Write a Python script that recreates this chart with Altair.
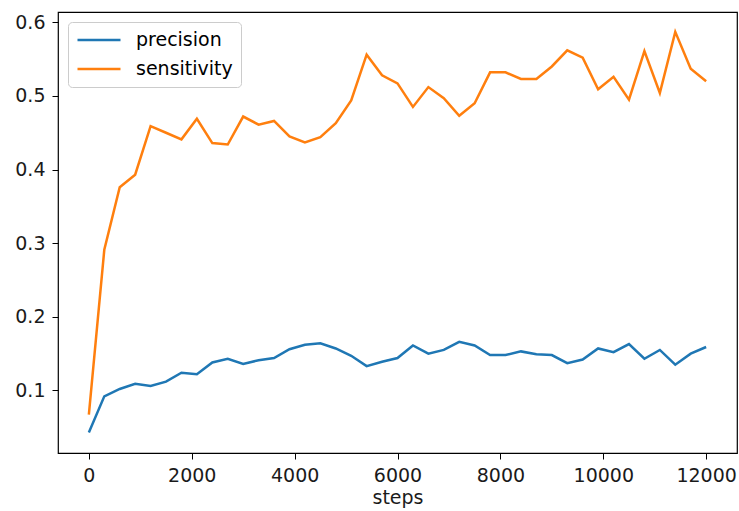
import altair as alt
import pandas as pd

# Training curve sampled every 300 steps
steps = list(range(0, 12001, 300))

precision = [
    0.043, 0.092, 0.102, 0.109, 0.106, 0.112, 0.124, 0.122, 0.138, 0.143,
    0.136, 0.141, 0.144, 0.156, 0.162, 0.164, 0.157, 0.147, 0.133, 0.139,
    0.144, 0.161, 0.150, 0.155, 0.166, 0.161, 0.148, 0.148, 0.153, 0.149,
    0.148, 0.137, 0.142, 0.157, 0.152, 0.163, 0.143, 0.155, 0.135, 0.150,
    0.159,
]

sensitivity = [
    0.067, 0.291, 0.376, 0.393, 0.459, 0.450, 0.441, 0.469, 0.436, 0.434,
    0.472, 0.461, 0.466, 0.445, 0.437, 0.444, 0.463, 0.494, 0.556, 0.528,
    0.517, 0.485, 0.512, 0.497, 0.473, 0.490, 0.532, 0.532, 0.523, 0.523,
    0.540, 0.562, 0.552, 0.509, 0.526, 0.495, 0.561, 0.504, 0.587, 0.537,
    0.520,
]

series_names = ["precision", "sensitivity"]
series_colors = ["#1f77b4", "#ff7f0e"]

df = pd.concat(
    [
        pd.DataFrame({"steps": steps, "value": precision, "metric": "precision"}),
        pd.DataFrame({"steps": steps, "value": sensitivity, "metric": "sensitivity"}),
    ],
    ignore_index=True,
)

FONT = "DejaVu Sans"
FS = 19

chart = (
    alt.Chart(df)
    .mark_line(strokeWidth=2.5, clip=True)
    .encode(
        x=alt.X(
            "steps:Q",
            scale=alt.Scale(domain=[-600, 12600], nice=False, zero=False),
            axis=alt.Axis(
                values=[0, 2000, 4000, 6000, 8000, 10000, 12000],
                format="d",
                title="steps",
                titlePadding=3,
            ),
        ),
        y=alt.Y(
            "value:Q",
            scale=alt.Scale(domain=[0.015, 0.614], nice=False, zero=False),
            axis=alt.Axis(values=[0.1, 0.2, 0.3, 0.4, 0.5, 0.6], format=".1f", title=None),
        ),
        color=alt.Color(
            "metric:N",
            scale=alt.Scale(domain=series_names, range=series_colors),
            legend=alt.Legend(
                title=None,
                orient="none",
                legendX=10,
                legendY=10,
                symbolType="stroke",
                symbolSize=1849,
                symbolStrokeWidth=2.5,
                clipHeight=20,
                labelFont=FONT,
                labelFontSize=FS,
                labelColor="#000000",
                labelOffset=14,
                rowPadding=9,
                padding=8,
                strokeColor="#cccccc",
                fillColor="#ffffff",
                cornerRadius=4,
            ),
        ),
    )
    .properties(width=679, height=441)
    .configure(
        autosize=alt.AutoSizeParams(type="none"),
        padding={"left": 58, "top": 12, "right": 2, "bottom": 58},
    )
    .configure_view(stroke="#000000", strokeWidth=1.2)
    .configure_axis(
        grid=False,
        domain=False,
        ticks=True,
        tickColor="#000000",
        tickSize=6,
        tickWidth=1,
        labelFont=FONT,
        labelFontSize=FS,
        labelColor="#1a1a1a",
        labelPadding=7,
        titleFont=FONT,
        titleFontSize=FS,
        titleFontWeight="normal",
        titleColor="#1a1a1a",
    )
)

chart.save("out.html", embed_options={"renderer": "svg", "actions": False})
